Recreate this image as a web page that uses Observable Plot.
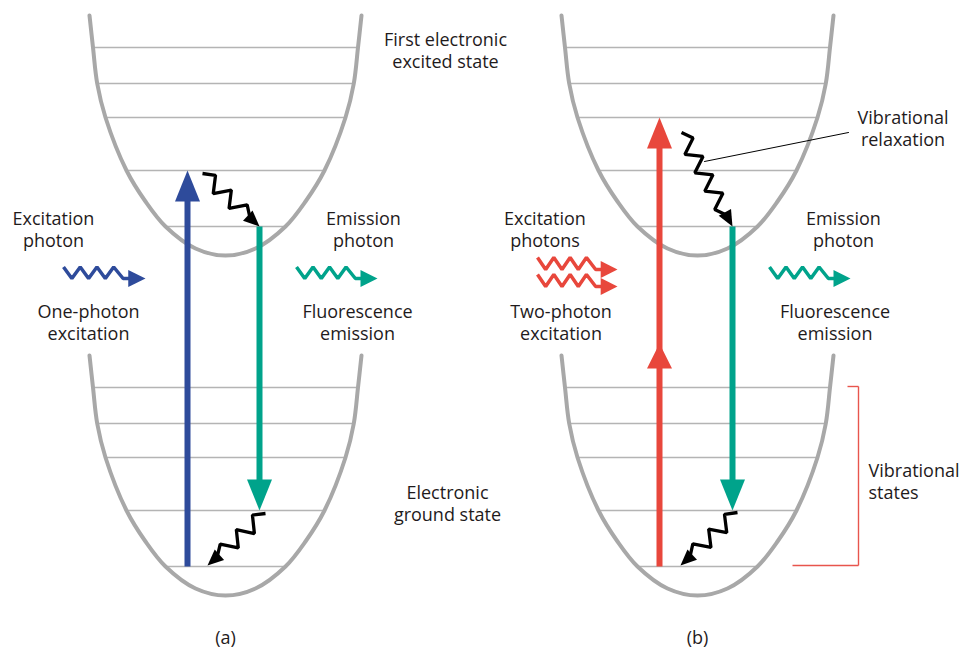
<!DOCTYPE html>
<html><head><meta charset="utf-8">
<script src="https://cdn.jsdelivr.net/npm/d3@7"></script>
<script src="https://cdn.jsdelivr.net/npm/@observablehq/plot@0.6"></script>
<style>html,body{margin:0;background:#fff}#chart svg{display:block}</style>
</head><body><div id="chart"></div>
<script>
// ---- Potential-well profile (half-width vs. height above well bottom) ----
const wellHalfWidth = [0, 30, 60, 80, 99, 120, 128.3, 132.5, 136];
const wellDepth     = [0, 7, 29, 54, 85, 138, 172, 208, 240];
// ---- Vibrational levels (height above well bottom, half-width) ----
const levelDepth     = [29, 85, 138, 172, 208];
const levelHalfWidth = [60, 99, 120, 128.3, 132.5];
// ---- Wells ----
const wellNames   = ["a-excited", "a-ground", "b-excited", "b-ground"];
const wellCenterX = [225, 225, 697, 697];
const wellBottomY = [255, 595, 255, 595];
// ---- Vertical transitions ----
const transitionX         = [187, 259, 659, 732];
const transitionFromWell  = ["a-ground", "a-excited", "b-ground", "b-excited"];
const transitionFromLevel = [0, 0, 0, 0];
const transitionToWell    = ["a-excited", "a-ground", "b-excited", "b-ground"];
const transitionToLevel   = [1, 1, 2, 1];
const transitionColor     = ["#2e4b9b", "#00a38b", "#e8473c", "#00a38b"];
const transitionMidHeadY  = [null, null, 343, null];
// ---- Vibrational relaxation squiggles ----
const squiggleStartX = [202, 265, 681, 737];
const squiggleStartY = [173, 513, 132, 512];
const squiggleEndX   = [259, 207, 732, 680];
const squiggleEndY   = [226, 565, 226, 565];
const squiggleSide   = [1, -1, 1, -1];
// ---- Photons (wavy arrows) ----
const photonStartX = [63, 296, 537, 537, 769];
const photonTipX   = [145, 377, 617, 617, 850];
const photonY      = [278, 278, 269, 286, 278];
const photonAmp    = [11.5, 11.5, 12, 12, 11.5];
const photonColor  = ["#2e4b9b", "#00a38b", "#e8473c", "#e8473c", "#00a38b"];
// ---- Annotation & bracket ----
const annotX = [704, 848], annotY = [161, 132];
const bracketX = [847, 858, 858, 792], bracketY = [386, 386, 565, 565];
// ---- Labels (lines separated by "|") ----
const labelText = ["First electronic|excited state", "Excitation|photon", "One-photon|excitation",
  "Emission|photon", "Fluorescence|emission", "Electronic|ground state", "(a)",
  "Excitation|photons", "Two-photon|excitation", "Emission|photon", "Fluorescence|emission",
  "Vibrational|relaxation", "Vibrational|states", "(b)"];
const labelX = [445, 53, 88, 363, 357, 447, 225, 544.5, 560.5, 843, 834.5, 902.5, 868, 697];
const labelY = [67, 246, 339, 246, 339, 520, 643, 246, 339, 246, 339, 145.5, 498, 643];
const labelAnchor = ["middle","middle","middle","middle","middle","middle","middle",
  "middle","middle","middle","middle","middle","start","middle"];

// ================= build geometry =================
const wells = wellNames.map((name, i) => ({name, cx: wellCenterX[i], by: wellBottomY[i]}));
const wellByName = Object.fromEntries(wells.map(w => [w.name, w]));
const levelY = (wn, k) => wellByName[wn].by - levelDepth[k];

const wellPts = [];
for (const w of wells) {
  for (let i = wellDepth.length - 1; i >= 0; i--) wellPts.push({w: w.name, x: w.cx - wellHalfWidth[i], y: w.by - wellDepth[i]});
  for (let i = 1; i < wellDepth.length; i++) wellPts.push({w: w.name, x: w.cx + wellHalfWidth[i], y: w.by - wellDepth[i]});
}
const levels = wells.flatMap(w => levelDepth.map((d, j) => ({x1: w.cx - levelHalfWidth[j], x2: w.cx + levelHalfWidth[j], y: w.by - d})));

const tris = [];
let triId = 0;
function vTri(x, tipY, dir, len, hw, color) {
  const id = "t" + (triId++);
  tris.push({id, x: x - hw, y: tipY - dir * len, c: color},
            {id, x: x, y: tipY, c: color},
            {id, x: x + hw, y: tipY - dir * len, c: color});
}
function dirTri(tx, ty, ux, uy, len, hw, color) {
  const id = "t" + (triId++), vx = -uy, vy = ux;
  tris.push({id, x: tx - ux * len + vx * hw, y: ty - uy * len + vy * hw, c: color},
            {id, x: tx, y: ty, c: color},
            {id, x: tx - ux * len - vx * hw, y: ty - uy * len - vy * hw, c: color});
}

const shafts = [];
transitionX.forEach((x, i) => {
  const y0 = levelY(transitionFromWell[i], transitionFromLevel[i]);
  const y1 = levelY(transitionToWell[i], transitionToLevel[i]);
  const dir = Math.sign(y1 - y0);
  const headLen = 31;
  shafts.push({x, y1: y0, y2: y1 - dir * (headLen - 2), c: transitionColor[i]});
  vTri(x, y1, dir, headLen, 12.5, transitionColor[i]);
  if (transitionMidHeadY[i] != null) vTri(x, transitionMidHeadY[i], dir, 25, 12.5, transitionColor[i]);
});

const squigglePts = [];
squiggleStartX.forEach((sx, i) => {
  const sy = squiggleStartY[i], ex = squiggleEndX[i], ey = squiggleEndY[i];
  const dx = ex - sx, dy = ey - sy, len = Math.hypot(dx, dy), ux = dx / len, uy = dy / len;
  const side = squiggleSide[i], vx = uy * side, vy = -ux * side;
  const head = 16, base = len - head + 3;
  const n = Math.round(base / 10), s = base / n, A = 7.5, id = "s" + i;
  squigglePts.push({id, x: sx, y: sy});
  for (let k = 1; k < n; k++) {
    const o = (k % 2 ? 1 : -1) * A;
    squigglePts.push({id, x: sx + ux * s * k + vx * o, y: sy + uy * s * k + vy * o});
  }
  squigglePts.push({id, x: sx + ux * base, y: sy + uy * base});
  dirTri(ex, ey, ux, uy, head, 7, "#000");
});

const photonPts = [];
photonStartX.forEach((x0, i) => {
  const tip = photonTipX[i], y = photonY[i], L = tip - x0, h = L * 0.102, id = "p" + i, c = photonColor[i];
  for (let k = 0; k < 7; k++) photonPts.push({id, c, x: x0 + k * h, y: k % 2 === 0 ? y - photonAmp[i] : y});
  photonPts.push({id, c, x: x0 + 6 * h + L * 0.115, y});
  photonPts.push({id, c, x: tip - L * 0.2, y});
  const id2 = "t" + (triId++);
  tris.push({id: id2, c, x: tip - L * 0.21, y: y - 8.5}, {id: id2, c, x: tip, y}, {id: id2, c, x: tip - L * 0.21, y: y + 8.5});
});

const lineGap = 22;
const labels = labelText.flatMap((t, i) => {
  const parts = t.split("|"), n = parts.length;
  return parts.map((p, k) => ({t: p, x: labelX[i], y: labelY[i] - (n - 1 - k) * lineGap, a: labelAnchor[i]}));
});
const annot = annotX.map((x, i) => ({x, y: annotY[i]}));
const bracket = bracketX.map((x, i) => ({x, y: bracketY[i]}));
const textOpts = {x: "x", y: "y", text: "t", lineAnchor: "bottom", fontSize: 18, fill: "#1f1b1c"};

const chart = Plot.plot({
  width: 962, height: 648, margin: 0,
  x: {domain: [0, 962], range: [0, 962], axis: null},
  y: {domain: [0, 648], range: [0, 648], axis: null},
  color: {type: "identity"},
  style: {fontFamily: "'Open Sans', sans-serif", background: "#fff"},
  marks: [
    Plot.link(levels, {x1: "x1", x2: "x2", y1: "y", y2: "y", stroke: "#b4b4b4", strokeWidth: 1.6}),
    Plot.line(wellPts, {x: "x", y: "y", z: "w", curve: "catmull-rom", stroke: "#a8a8a8", strokeWidth: 4}),
    Plot.link(bracket.slice(0, -1), {x1: "x", y1: "y", x2: (d, i) => bracket[i + 1].x, y2: (d, i) => bracket[i + 1].y, stroke: "#e8554d", strokeWidth: 1.4}),
    Plot.line(annot, {x: "x", y: "y", stroke: "#000", strokeWidth: 1}),
    Plot.link(shafts, {x1: "x", x2: "x", y1: "y1", y2: "y2", stroke: "c", strokeWidth: 6, strokeLinecap: "butt"}),
    Plot.line(squigglePts, {x: "x", y: "y", z: "id", stroke: "#000", strokeWidth: 3.3, strokeLinejoin: "miter", strokeLinecap: "butt", curve: "linear"}),
    Plot.line(photonPts, {x: "x", y: "y", z: "id", stroke: "c", strokeWidth: 3.5, strokeLinejoin: "miter", strokeLinecap: "butt", curve: "linear"}),
    Plot.line(tris, {x: "x", y: "y", z: "id", fill: "c", stroke: "none", curve: "linear-closed"}),
    Plot.text(labels.filter(d => d.a === "middle"), {...textOpts, textAnchor: "middle"}),
    Plot.text(labels.filter(d => d.a === "start"), {...textOpts, textAnchor: "start"})
  ]
});
document.getElementById("chart").appendChild(chart);
</script>
</body></html>
